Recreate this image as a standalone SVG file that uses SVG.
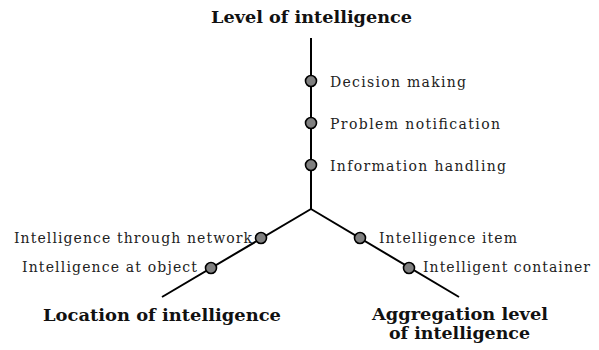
<svg xmlns="http://www.w3.org/2000/svg" width="599" height="350" viewBox="0 0 599 350">
<style>
.ax{stroke:#000;stroke-width:2;fill:none}
.dot{fill:#808080;stroke:#000;stroke-width:1.6}
.lb{font-family:"DejaVu Serif","Liberation Serif",serif;font-size:14px;fill:#222}
.tt{font-family:"DejaVu Serif","Liberation Serif",serif;font-size:16.5px;font-weight:bold;fill:#111}
</style>
<rect width="599" height="350" fill="#fff"/>
<g id="connectors">
<line class="ax" x1="311" y1="38" x2="311" y2="209"/>
<line class="ax" x1="311" y1="209" x2="162" y2="297"/>
<line class="ax" x1="311" y1="209" x2="459" y2="297"/>
</g>
<g id="axis-level">
<text class="tt" x="211" y="23" textLength="201" lengthAdjust="spacingAndGlyphs">Level of intelligence</text>
</g>
<g id="axis-location">
<text class="tt" x="43" y="321" textLength="238" lengthAdjust="spacingAndGlyphs">Location of intelligence</text>
</g>
<g id="axis-aggregation">
<text class="tt" x="372" y="320" textLength="176" lengthAdjust="spacingAndGlyphs">Aggregation level</text>
<text class="tt" x="389" y="339" textLength="141" lengthAdjust="spacingAndGlyphs">of intelligence</text>
</g>
<g id="decision-making">
<circle class="dot" cx="311" cy="81" r="5.5"/>
<text class="lb" x="330" y="86.5" textLength="136" lengthAdjust="spacing">Decision making</text>
</g>
<g id="problem-notification">
<circle class="dot" cx="311" cy="123" r="5.5"/>
<text class="lb" x="330" y="128.5" textLength="170" lengthAdjust="spacing">Problem notification</text>
</g>
<g id="information-handling">
<circle class="dot" cx="311" cy="165" r="5.5"/>
<text class="lb" x="330" y="170.5" textLength="176" lengthAdjust="spacing">Information handling</text>
</g>
<g id="intelligence-through-network">
<circle class="dot" cx="261" cy="238" r="5.5"/>
<text class="lb" x="14" y="243" textLength="238" lengthAdjust="spacing">Intelligence through network</text>
</g>
<g id="intelligence-at-object">
<circle class="dot" cx="211" cy="268" r="5.5"/>
<text class="lb" x="22" y="272" textLength="175" lengthAdjust="spacing">Intelligence at object</text>
</g>
<g id="intelligence-item">
<circle class="dot" cx="360" cy="238" r="5.5"/>
<text class="lb" x="379" y="243" textLength="138" lengthAdjust="spacing">Intelligence item</text>
</g>
<g id="intelligent-container">
<circle class="dot" cx="409" cy="268" r="5.5"/>
<text class="lb" x="423" y="272" textLength="167" lengthAdjust="spacing">Intelligent container</text>
</g>
</svg>
